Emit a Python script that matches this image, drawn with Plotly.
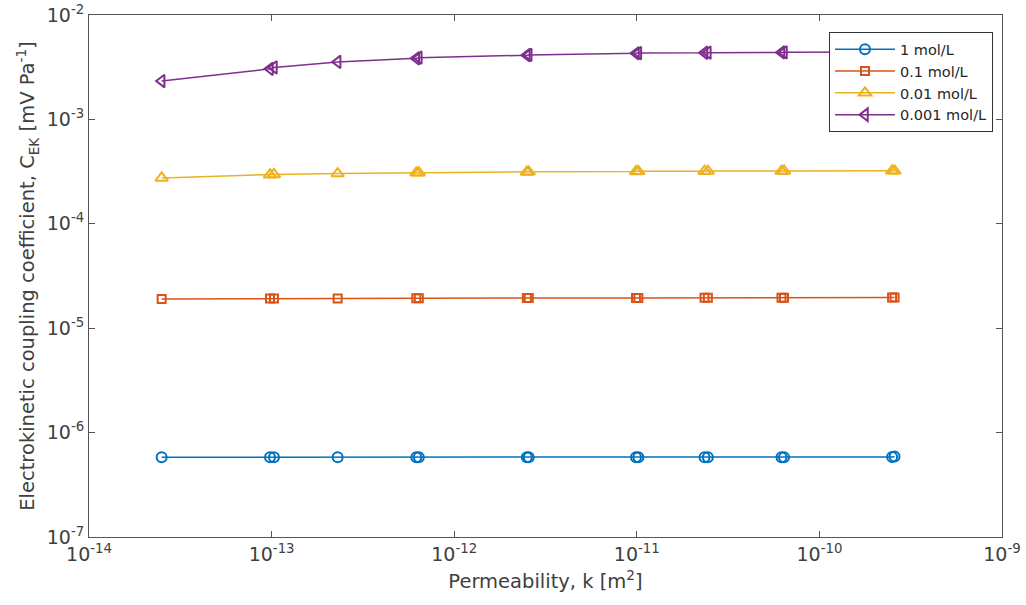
import plotly.graph_objects as go

# Permeability values (m^2), shared by all series
k = [2.5e-14, 0.98e-13, 1.03e-13, 2.3e-13, 6.2e-13, 6.4e-13, 2.5e-12, 2.56e-12,
     0.99e-11, 1.02e-11, 2.35e-11, 2.45e-11, 6.2e-11, 6.4e-11, 2.5e-10, 2.58e-10]

c_1 = [5.8e-7, 5.8e-7, 5.8e-7, 5.8e-7, 5.8e-7, 5.8e-7, 5.8e-7, 5.8e-7,
       5.8e-7, 5.8e-7, 5.8e-7, 5.8e-7, 5.8e-7, 5.8e-7, 5.85e-7, 5.9e-7]
c_01 = [1.90e-5, 1.92e-5, 1.92e-5, 1.93e-5, 1.94e-5, 1.94e-5, 1.95e-5, 1.95e-5,
        1.95e-5, 1.95e-5, 1.96e-5, 1.96e-5, 1.96e-5, 1.96e-5, 1.97e-5, 1.97e-5]
c_001 = [2.75e-4, 2.95e-4, 2.97e-4, 3.03e-4, 3.08e-4, 3.09e-4, 3.14e-4, 3.15e-4,
         3.17e-4, 3.18e-4, 3.19e-4, 3.2e-4, 3.2e-4, 3.21e-4, 3.22e-4, 3.22e-4]
c_0001 = [2.33e-3, 3.05e-3, 3.15e-3, 3.55e-3, 3.85e-3, 3.9e-3, 4.12e-3, 4.15e-3,
          4.3e-3, 4.32e-3, 4.35e-3, 4.36e-3, 4.38e-3, 4.39e-3, 4.42e-3, 4.42e-3]

names = ["1 mol/L", "0.1 mol/L", "0.01 mol/L", "0.001 mol/L"]
series = [c_1, c_01, c_001, c_0001]
colors = ["#0072BD", "#D95319", "#EDB120", "#7E2F8E"]
symbols = ["circle-open", "square-open", "triangle-up-open", "triangle-left-open"]
sizes = [10, 8, 11, 11]

x_tickvals = [1e-14, 1e-13, 1e-12, 1e-11, 1e-10, 1e-9]
x_ticktext = ["10<sup>-14</sup>", "10<sup>-13</sup>", "10<sup>-12</sup>",
              "10<sup>-11</sup>", "10<sup>-10</sup>", "10<sup>-9</sup>"]
y_tickvals = [1e-7, 1e-6, 1e-5, 1e-4, 1e-3, 1e-2]
y_ticktext = ["10<sup>-7</sup>", "10<sup>-6</sup>", "10<sup>-5</sup>",
              "10<sup>-4</sup>", "10<sup>-3</sup>", "10<sup>-2</sup>"]

fig = go.Figure()
for name, ys, col, sym, sz in zip(names, series, colors, symbols, sizes):
    fig.add_trace(go.Scatter(
        x=k, y=ys, name=name, mode="lines+markers",
        line=dict(color=col, width=1.5),
        marker=dict(symbol=sym, size=sz, color=col, line=dict(width=2, color=col)),
    ))

axis_col = "#555555"
fig.update_layout(
    width=1026, height=605,
    margin=dict(l=89, r=24, t=15, b=68),
    paper_bgcolor="white", plot_bgcolor="white",
    font=dict(family="DejaVu Sans", size=16, color="#404040"),
    showlegend=True,
    legend=dict(
        x=0.8105, y=0.967, xanchor="left", yanchor="top",
        bordercolor="#333333", borderwidth=1, bgcolor="white",
        font=dict(size=14.5, color="#262626"),
        tracegroupgap=0, itemwidth=60,
    ),
    xaxis=dict(
        type="log", range=[-14, -9], automargin=False,
        tickvals=x_tickvals, ticktext=x_ticktext,
        ticks="inside", ticklen=6, tickcolor=axis_col,
        ticklabeloverflow="allow",
        showline=True, linecolor=axis_col, linewidth=1, mirror="ticks",
        showgrid=False, zeroline=False,
        title=dict(text="Permeability, k [m<sup>2</sup>]", font=dict(size=19.5), standoff=10),
        tickfont=dict(size=19),
    ),
    yaxis=dict(
        type="log", range=[-7, -2], automargin=False,
        tickvals=y_tickvals, ticktext=y_ticktext,
        ticks="inside", ticklen=6, tickcolor=axis_col,
        ticklabeloverflow="allow",
        showline=True, linecolor=axis_col, linewidth=1, mirror="ticks",
        showgrid=False, zeroline=False,
        title=dict(text="Electrokinetic coupling coefficient, C<sub>EK</sub> [mV Pa<sup>-1</sup>]",
                   font=dict(size=19.5), standoff=6),
        tickfont=dict(size=19),
    ),
)

fig.write_html(
    "out.html",
    config={"displayModeBar": False},
    post_script="document.body.style.margin='0';document.body.style.overflow='hidden';",
)
